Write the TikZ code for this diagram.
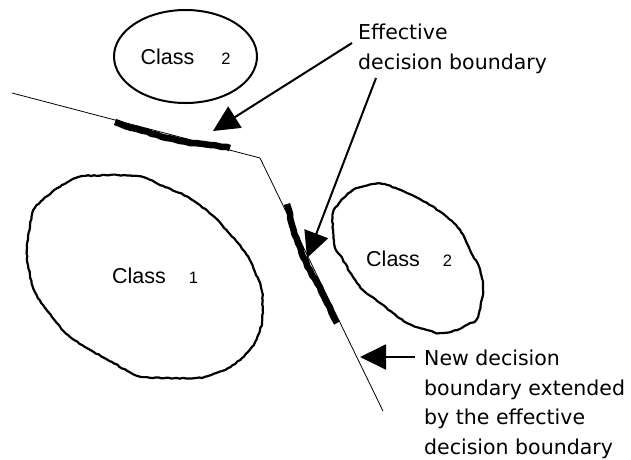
\documentclass[tikz,border=0pt]{standalone}
\usepackage{fontspec}
\setmainfont{DejaVu Sans}
\newfontfamily\arialfont{Liberation Sans}
\usetikzlibrary{arrows.meta,calc,shapes.geometric,decorations.pathmorphing}
\tikzset{
  blob/.style={line width=2.2pt,line join=round,
    decorate,decoration={random steps,segment length=3pt,amplitude=0.5pt}},
  thickpart/.style={line width=6.5pt,line join=round,
    decorate,decoration={random steps,segment length=5pt,amplitude=0.8pt}},
  pointer/.style={line width=2pt,-{Triangle[length=26pt,width=25pt]}},
  note/.style={font=\fontsize{20.5}{29.5}\selectfont,align=left,inner sep=0pt,anchor=north west},
  classlbl/.style={font=\arialfont\fontsize{21.5}{24}\selectfont,inner sep=0pt}
}
\newcommand{\cls}[2][23pt]{Class\hspace{#1}{\fontsize{16.5}{18}\selectfont #2}}

\begin{document}
\begin{tikzpicture}[x=1pt,y=-1pt,line join=round]
  \useasboundingbox (0,0) rectangle (631,459);
  \pgfmathsetseed{7}
  \coordinate (B0) at (12,93);
  \coordinate (BK) at (260,158);
  \coordinate (B1) at (383,411);
  \draw[line width=0.8pt] (B0)--(BK)--(B1);
  \draw[thickpart] (115,122)--(125,126)--(137,129)--(152,134)--(167,138)--(180,141)
    --(193,143)--(210,145)--(222,147)--(230,148);
  \draw[thickpart] (287,204)--(292,225)--(298,243)--(303,257)--(310,270)--(317,283)
    --(327,303)--(337,323);
  \draw[blob] plot[smooth cycle,tension=0.5] coordinates {(68,182) (85,176) (138,176)
    (165,187) (188,197) (212,215) (228,232) (245,252) (255,272) (262,292) (262,322)
    (255,342) (242,358) (228,368) (208,376) (195,378) (165,378) (138,376) (112,362)
    (85,347) (68,335) (52,317) (35,292) (28,265) (27,248) (30,225) (35,208) (52,192)};
  \draw[blob] plot[smooth cycle,tension=0.5] coordinates {(333,213) (340,202) (353,190)
    (373,184) (387,185) (407,193) (427,203) (447,217) (460,230) (470,250) (480,270)
    (483,290) (478,317) (470,323) (457,330) (440,333) (427,330) (407,323) (393,313)
    (380,303) (363,290) (353,277) (343,260) (335,247) (333,230)};
  \node[classlbl,ellipse,draw,line width=2pt,minimum width=143pt,minimum height=93pt]
    (ctop) at (185.5,56.5) {\cls[27pt]{2}};
  \node[classlbl,anchor=base west] (cone) at (112,283) {\cls{1}};
  \node[classlbl,anchor=base west] (ctwo) at (366,266) {\cls{2}};
  \node[note] (eff) at (358,24) {Effective\\decision boundary};
  \node[note] (newdb) at (424,350) {New decision\\boundary extended\\by the effective\\decision boundary};
  \coordinate (tipA) at (213,131);
  \coordinate (tipB) at (307,258);
  \coordinate (tipC) at (360,357);
  \draw[pointer] ([shift={(-6,19)}]eff.north west) -- (tipA);
  \draw[pointer] ([shift={(18,54)}]eff.north west) -- (tipB);
  \draw[pointer] ([shift={(-9,7)}]newdb.north west) -- (tipC);
\end{tikzpicture}
\end{document}
